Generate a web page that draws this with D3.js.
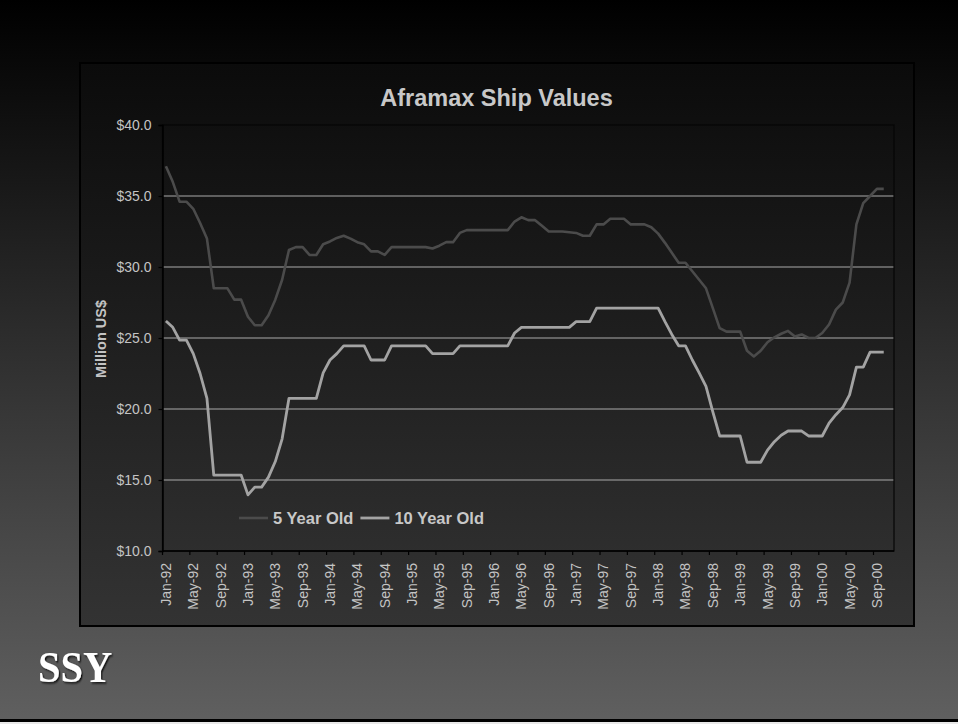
<!DOCTYPE html>
<html>
<head>
<meta charset="utf-8">
<script src="https://cdn.jsdelivr.net/npm/d3@7"></script>
<style>
  html, body { margin: 0; padding: 0; background: #000; }
  svg { display: block; }
  text { font-family: "Liberation Sans", Arial, sans-serif; }
</style>
</head>
<body>
<svg id="chart" width="958" height="724"></svg>
<script>
// Monthly categories, Jan-92 through Nov-00
const fmt = d3.timeFormat("%b-%y");
const categories = d3.timeMonth.range(new Date(1992, 0, 1), new Date(2000, 11, 1)).map(fmt);

// Axis labels shown every fourth month
const tickLabels = [
  "Jan-92","May-92","Sep-92","Jan-93","May-93","Sep-93","Jan-94","May-94","Sep-94",
  "Jan-95","May-95","Sep-95","Jan-96","May-96","Sep-96","Jan-97","May-97","Sep-97",
  "Jan-98","May-98","Sep-98","Jan-99","May-99","Sep-99","Jan-00","May-00","Sep-00"
];
const yTicks = [10, 15, 20, 25, 30, 35, 40];

// Million US$, monthly from Jan-92
const fiveYearOld = [
  37.1, 36.0, 34.6, 34.6, 34.1, 33.1, 32.0, 28.5, 28.5, 28.5, 27.7, 27.7,
  26.5, 25.9, 25.9, 26.6, 27.7, 29.1, 31.2, 31.4, 31.4, 30.85, 30.85, 31.6,
  31.8, 32.05, 32.2, 32.0, 31.75, 31.6, 31.1, 31.1, 30.85, 31.4, 31.4, 31.4,
  31.4, 31.4, 31.4, 31.3, 31.5, 31.75, 31.75, 32.4, 32.6, 32.6, 32.6, 32.6,
  32.6, 32.6, 32.6, 33.2, 33.5, 33.3, 33.3, 32.9, 32.5, 32.5, 32.5, 32.45,
  32.4, 32.2, 32.2, 33.0, 33.0, 33.4, 33.4, 33.4, 33.0, 33.0, 33.0, 32.8,
  32.35, 31.7, 31.0, 30.3, 30.3, 29.7, 29.1, 28.5, 27.1, 25.7, 25.45, 25.45,
  25.45, 24.1, 23.7, 24.1, 24.7, 25.05, 25.3, 25.5, 25.1, 25.25, 25.0, 25.0,
  25.35, 25.95, 27.0, 27.5, 28.9, 33.0, 34.5, 35.0, 35.5, 35.5
];
const tenYearOld = [
  26.2, 25.75, 24.85, 24.85, 23.9, 22.5, 20.75, 15.35, 15.35, 15.35, 15.35, 15.35,
  13.95, 14.5, 14.5, 15.2, 16.3, 17.9, 20.75, 20.75, 20.75, 20.75, 20.75, 22.55,
  23.45, 23.9, 24.45, 24.45, 24.45, 24.45, 23.45, 23.45, 23.45, 24.45, 24.45, 24.45,
  24.45, 24.45, 24.45, 23.9, 23.9, 23.9, 23.9, 24.45, 24.45, 24.45, 24.45, 24.45,
  24.45, 24.45, 24.45, 25.35, 25.75, 25.75, 25.75, 25.75, 25.75, 25.75, 25.75, 25.75,
  26.15, 26.15, 26.15, 27.1, 27.1, 27.1, 27.1, 27.1, 27.1, 27.1, 27.1, 27.1,
  27.1, 26.15, 25.25, 24.45, 24.45, 23.45, 22.55, 21.6, 19.8, 18.1, 18.1, 18.1,
  18.1, 16.25, 16.25, 16.25, 17.1, 17.7, 18.15, 18.45, 18.45, 18.45, 18.1, 18.1,
  18.1, 19.0, 19.6, 20.1, 21.0, 22.95, 22.95, 24.0, 24.0, 24.0
];

const series = [
  { name: "5 Year Old", values: fiveYearOld, color: "#4b4b4b", width: 2.6 },
  { name: "10 Year Old", values: tenYearOld, color: "#a3a3a3", width: 2.8 }
];

const svg = d3.select("#chart");
const W = 958, H = 724;
const defs = svg.append("defs");

const slideGrad = defs.append("linearGradient").attr("id", "slideBg")
  .attr("x1", 0).attr("y1", 0).attr("x2", 0).attr("y2", 1);
slideGrad.append("stop").attr("offset", 0).attr("stop-color", "#000000");
slideGrad.append("stop").attr("offset", 1).attr("stop-color", "#606060");

const boxGrad = defs.append("linearGradient").attr("id", "boxBg")
  .attr("x1", 0).attr("y1", 0).attr("x2", 0).attr("y2", 1);
boxGrad.append("stop").attr("offset", 0).attr("stop-color", "#0b0b0b");
boxGrad.append("stop").attr("offset", 1).attr("stop-color", "#333333");

const shadow = defs.append("filter").attr("id", "logoShadow")
  .attr("x", "-10%").attr("y", "-10%").attr("width", "130%").attr("height", "130%");
shadow.append("feDropShadow").attr("dx", 1.5).attr("dy", 1.5).attr("stdDeviation", 0.8)
  .attr("flood-color", "#000").attr("flood-opacity", 0.8);

// Slide background
svg.append("rect").attr("width", W).attr("height", H).attr("fill", "url(#slideBg)");
svg.append("rect").attr("x", 0).attr("y", 719).attr("width", W).attr("height", 3).attr("fill", "#000");
svg.append("rect").attr("x", 0).attr("y", 722).attr("width", W).attr("height", 2).attr("fill", "#e8e8e8");

// Chart box
svg.append("rect").attr("x", 80).attr("y", 63).attr("width", 834).attr("height", 563)
  .attr("fill", "url(#boxBg)").attr("stroke", "#000").attr("stroke-width", 2);

const plot = { left: 162.5, right: 894, top: 125, bottom: 551 };

const x = d3.scaleBand().domain(categories).range([plot.left, plot.right]).padding(0);
const y = d3.scaleLinear().domain([10, 40]).range([plot.bottom, plot.top]);
const cx = d => x(d) + x.bandwidth() / 2;

// Gridlines
svg.append("g").selectAll("line").data(yTicks.filter(v => v > 10 && v < 40)).join("line")
  .attr("x1", plot.left).attr("x2", plot.right)
  .attr("y1", d => y(d)).attr("y2", d => y(d))
  .attr("stroke", "#aaaaaa").attr("stroke-width", 1);

// Plot border
svg.append("rect").attr("x", plot.left).attr("y", plot.top)
  .attr("width", plot.right - plot.left).attr("height", plot.bottom - plot.top)
  .attr("fill", "none").attr("stroke", "#050505").attr("stroke-width", 1.2);

// Y axis
const yAxis = svg.append("g").attr("transform", `translate(${plot.left},0)`)
  .call(d3.axisLeft(y).tickValues(yTicks).tickSize(4).tickPadding(7)
    .tickFormat(d => "$" + d3.format(".1f")(d)));
yAxis.select(".domain").attr("stroke", "#000").attr("stroke-width", 1.5);
yAxis.selectAll(".tick line").attr("stroke", "#000").attr("stroke-width", 1.2);
yAxis.selectAll(".tick text").attr("fill", "#c4c4c4")
  .style("font-size", "14px").style("font-family", "'Liberation Sans', Arial, sans-serif");

// X axis: ticks sit between categories, labels at category centres
const xAxisG = svg.append("g").attr("transform", `translate(0,${plot.bottom})`);
xAxisG.append("line").attr("x1", plot.left).attr("x2", plot.right)
  .attr("stroke", "#000").attr("stroke-width", 1.5);
xAxisG.selectAll("line.tk").data(tickLabels).join("line").attr("class", "tk")
  .attr("x1", d => x(d)).attr("x2", d => x(d)).attr("y1", 0).attr("y2", 4)
  .attr("stroke", "#000").attr("stroke-width", 1.2);
xAxisG.selectAll("text").data(tickLabels).join("text")
  .attr("transform", d => `translate(${cx(d) + 5},12) rotate(-90)`)
  .attr("text-anchor", "end")
  .attr("fill", "#c4c4c4").style("font-size", "14px")
  .text(d => d);

// Axis title
svg.append("text").attr("transform", "translate(106,339) rotate(-90)")
  .attr("text-anchor", "middle").attr("fill", "#c4c4c4")
  .style("font-size", "14.5px").style("font-weight", "bold").text("Million US$");

// Chart title
svg.append("text").attr("x", 496.5).attr("y", 106).attr("text-anchor", "middle")
  .attr("fill", "#c8c8c8").style("font-size", "23.5px").style("font-weight", "bold")
  .text("Aframax Ship Values");

// Series lines
const line = d3.line().x((d, i) => cx(categories[i])).y(d => y(d)).curve(d3.curveLinear);
svg.append("g").selectAll("path").data(series).join("path")
  .attr("d", d => line(d.values))
  .attr("fill", "none").attr("stroke", d => d.color).attr("stroke-width", d => d.width)
  .attr("stroke-linejoin", "round");

// Legend
const legend = svg.append("g").attr("transform", "translate(239,518)");
let lx = 0;
series.forEach(s => {
  legend.append("line").attr("x1", lx).attr("x2", lx + 29).attr("y1", 0).attr("y2", 0)
    .attr("stroke", s.color).attr("stroke-width", s.width);
  const t = legend.append("text").attr("x", lx + 34).attr("y", 6)
    .attr("fill", "#c8c8c8").style("font-size", "16.5px").style("font-weight", "bold").text(s.name);
  lx += 34 + t.node().getComputedTextLength() + 7;
});

// Logo
svg.append("text").attr("transform", "translate(38,682) scale(0.9,1)")
  .attr("fill", "#ffffff").attr("filter", "url(#logoShadow)")
  .style("font-family", "'Liberation Serif', 'Times New Roman', serif")
  .style("font-size", "45px").style("font-weight", "bold").text("SSY");
</script>
</body>
</html>
